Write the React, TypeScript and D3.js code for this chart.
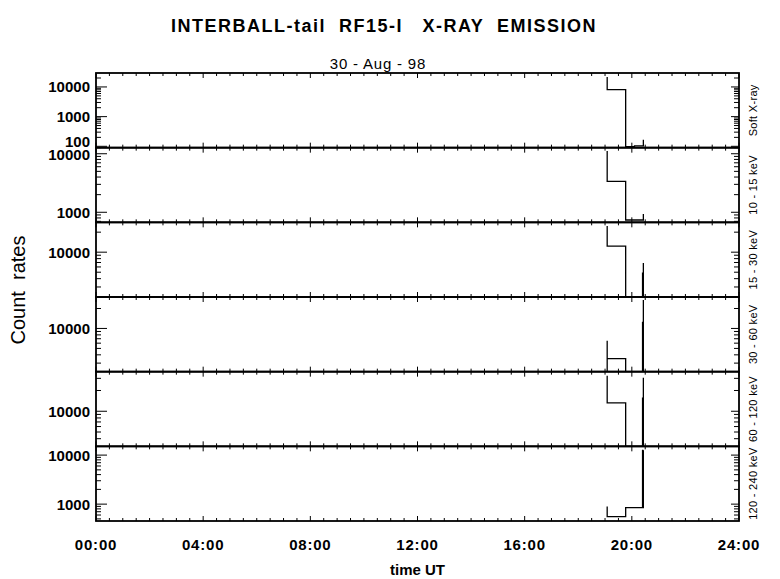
import * as d3 from "d3";

const W = 780;
const H = 579;
const left = 96;
const right = 739;
const top = 73;
const bottom = 521;

// energy channels, top to bottom
const channels = [
  "Soft X-ray",
  "10 - 15 keV",
  "15 - 30 keV",
  "30 - 60 keV",
  "60 - 120 keV",
  "120 - 240 keV",
];
// log axis range of each panel (counts)
const yDomains = [
  [90, 29500],
  [673, 12700],
  [2120, 28100],
  [2230, 29800],
  [3100, 37500],
  [453, 15100],
];

// step data: hour UT where the step starts, count rate after it
const softTimes = [19.08, 19.08, 19.77, 20.1, 20.43];
const softRates = [21800, 8150, 97, 104, 165];
const ch1Times = [19.08, 19.08, 19.77, 20.43];
const ch1Rates = [11100, 3380, 737, 935];
const ch2Times = [19.08, 19.08, 19.77, 20.4, 20.41, 20.43];
const ch2Rates = [24800, 12300, 1500, 4860, 1500, 6880];
const ch3Times = [19.08, 19.08, 19.08, 19.77, 20.4, 20.41, 20.43];
const ch3Rates = [1500, 6510, 3510, 1500, 12300, 1500, 26800];
const ch4Times = [19.08, 19.08, 19.77, 20.4, 20.41, 20.43];
const ch4Rates = [32700, 13200, 2000, 15500, 2000, 30600];
const ch5Times = [19.08, 19.08, 19.77, 20.4, 20.41, 20.43];
const ch5Rates = [893, 556, 851, 12500, 851, 12500];

const seriesTimes = [softTimes, ch1Times, ch2Times, ch3Times, ch4Times, ch5Times];
const seriesRates = [softRates, ch1Rates, ch2Rates, ch3Rates, ch4Rates, ch5Rates];

const hourLabels = ["00:00", "04:00", "08:00", "12:00", "16:00", "20:00", "24:00"];

const font = "'Liberation Sans', Arial, sans-serif";

export default function App() {
  const x = d3.scaleLinear().domain([0, 24]).range([left, right]);
  const panelH = (bottom - top) / channels.length;
  const minorHours = d3.range(0, 24.001, 0.5);

  const panels = channels.map((name, i) => {
    const y0 = top + i * panelH;
    const y1 = y0 + panelH;
    const y = d3
      .scaleLog()
      .domain(yDomains[i])
      .range([y1, y0])
      .clamp(true);
    const ticks = y.ticks();
    const pts = seriesTimes[i].map((t, k) => [t, seriesRates[i][k]] as [number, number]);
    const line = d3
      .line<[number, number]>()
      .x((d) => x(d[0]))
      .y((d) => y(d[1]))
      .curve(d3.curveStepAfter);
    const isMajor = (v: number) => Math.abs(Math.log10(v) - Math.round(Math.log10(v))) < 1e-9;

    return (
      <g key={name}>
        <clipPath id={"clip" + i}>
          <rect x={left} y={y0} width={right - left} height={panelH} />
        </clipPath>
        <path
          d={line(pts) || ""}
          fill="none"
          stroke="#000"
          strokeWidth={1.3}
          clipPath={"url(#clip" + i + ")"}
        />
        {/* log ticks, left and right */}
        {ticks.map((v) => {
          const ty = y(v);
          const major = isMajor(v);
          return (
            <g key={v}>
              <line x1={left} x2={left + (major ? 11 : 5)} y1={ty} y2={ty} stroke="#000" strokeWidth={1} />
              <line x1={right} x2={right - (major ? 8 : 5)} y1={ty} y2={ty} stroke="#000" strokeWidth={1} />
              {major && (
                <text
                  x={left - 6}
                  y={Math.min(Math.max(ty, y0 + 6.5), y1 - 6.5)}
                  textAnchor="end"
                  dominantBaseline="central"
                  fontFamily={font}
                  fontWeight="bold"
                  fontSize={15}
                >
                  {v}
                </text>
              )}
            </g>
          );
        })}
        {/* time ticks at top and bottom of panel */}
        {minorHours.map((h) => {
          const len = h % 4 === 0 ? 5 : 3;
          return (
            <g key={h}>
              <line x1={x(h)} x2={x(h)} y1={y0} y2={y0 + len} stroke="#000" strokeWidth={1} />
              <line x1={x(h)} x2={x(h)} y1={y1} y2={y1 - len} stroke="#000" strokeWidth={1} />
            </g>
          );
        })}
        <rect x={left} y={y0} width={right - left} height={panelH} fill="none" stroke="#000" strokeWidth={1.8} />
        <text
          transform={`translate(753,${(y0 + y1) / 2}) rotate(-90)`}
          textAnchor="middle"
          dominantBaseline="central"
          fontFamily={font}
          fontSize={11}
          letterSpacing={0.3}
        >
          {name}
        </text>
      </g>
    );
  });

  return (
    <div style={{ position: "fixed", left: 0, top: 0 }}>
      <svg width={W} height={H} style={{ display: "block", background: "#fff" }}>
        <rect width={W} height={H} fill="#fff" />
        <text
          x={384}
          y={26}
          textAnchor="middle"
          dominantBaseline="central"
          fontFamily={font}
          fontWeight="bold"
          fontSize={18}
          letterSpacing={1.5}
          style={{ whiteSpace: "pre" }}
        >
          {"INTERBALL-tail  RF15-I   X-RAY  EMISSION"}
        </text>
        <text
          x={378}
          y={63.5}
          textAnchor="middle"
          dominantBaseline="central"
          fontFamily={font}
          fontSize={15}
          letterSpacing={0.8}
          style={{ whiteSpace: "pre" }}
        >
          {"30 - Aug - 98"}
        </text>
        {panels}
        {hourLabels.map((lab, k) => (
          <text
            key={lab}
            x={x(k * 4)}
            y={544}
            textAnchor="middle"
            dominantBaseline="central"
            fontFamily={font}
            fontWeight="bold"
            fontSize={15}
            letterSpacing={0.8}
          >
            {lab}
          </text>
        ))}
        <text
          x={(left + right) / 2}
          y={569}
          textAnchor="middle"
          dominantBaseline="central"
          fontFamily={font}
          fontWeight="bold"
          fontSize={15}
        >
          time UT
        </text>
        <text
          transform="translate(17.5,290) rotate(-90)"
          textAnchor="middle"
          dominantBaseline="central"
          fontFamily={font}
          fontSize={20}
          style={{ whiteSpace: "pre" }}
        >
          {"Count  rates"}
        </text>
      </svg>
    </div>
  );
}
